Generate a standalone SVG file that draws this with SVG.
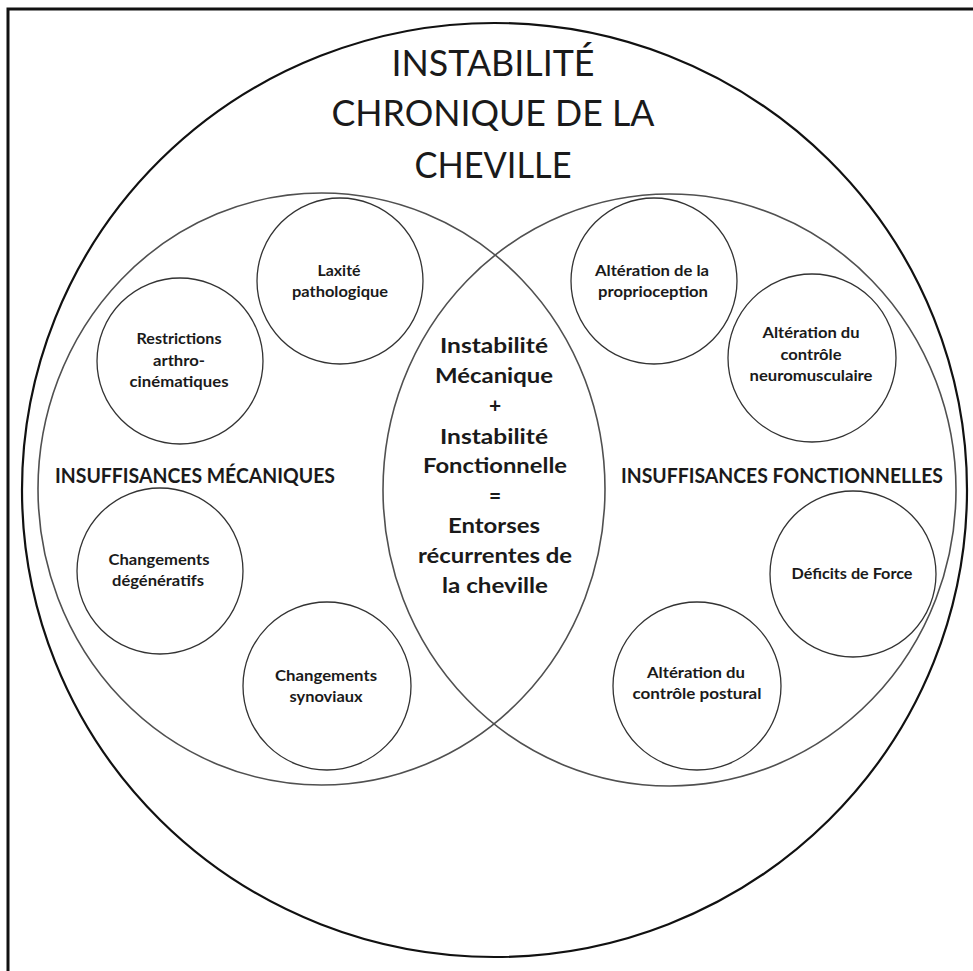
<svg xmlns="http://www.w3.org/2000/svg" width="973" height="971" viewBox="0 0 973 971">
<style>
.bg{fill:#ffffff}
.frame{fill:none;stroke:#111;stroke-width:3}
.outer{fill:none;stroke:#111;stroke-width:2.2}
.venn{fill:none;stroke:#505050;stroke-width:1.6}
.sc{fill:none;stroke:#333;stroke-width:1.3}
text{font-family:Lato,"Liberation Sans",sans-serif;fill:#1a1a1a;text-anchor:middle}
.title{font-size:36px;font-weight:400}
.center{font-size:21px;font-weight:700}
.lab{font-size:21px;font-weight:700;text-anchor:start}
.small{font-size:15px;font-weight:700}
</style>
<rect class="bg" x="0" y="0" width="973" height="971"/>
<path class="frame" d="M8,971 V9 H973"/>
<g id="outer-circle">
<ellipse class="outer" cx="494.5" cy="490" rx="472.5" ry="467"/>
<text class="title" x="493" y="76" textLength="203" lengthAdjust="spacingAndGlyphs">INSTABILITÉ</text>
<text class="title" x="493" y="126" textLength="323" lengthAdjust="spacingAndGlyphs">CHRONIQUE DE LA</text>
<text class="title" x="493" y="178" textLength="157" lengthAdjust="spacingAndGlyphs">CHEVILLE</text>
</g>
<g id="mecaniques">
<ellipse class="venn" cx="321.5" cy="489" rx="283.5" ry="296"/>
<text class="lab" x="55" y="483" textLength="280" lengthAdjust="spacingAndGlyphs">INSUFFISANCES  MÉCANIQUES</text>
</g>
<g id="fonctionnelles">
<ellipse class="venn" cx="669.5" cy="490" rx="286.5" ry="296"/>
<text class="lab" x="621" y="483" textLength="322" lengthAdjust="spacingAndGlyphs">INSUFFISANCES  FONCTIONNELLES</text>
</g>
<g id="intersection">
<text class="center" x="494" y="353" textLength="108" lengthAdjust="spacingAndGlyphs">Instabilité</text>
<text class="center" x="494" y="383" textLength="118" lengthAdjust="spacingAndGlyphs">Mécanique</text>
<text class="center" x="495" y="413">+</text>
<text class="center" x="494" y="444" textLength="108" lengthAdjust="spacingAndGlyphs">Instabilité</text>
<text class="center" x="495" y="473" textLength="144" lengthAdjust="spacingAndGlyphs">Fonctionnelle</text>
<text class="center" x="495" y="503">=</text>
<text class="center" x="494" y="533" textLength="92" lengthAdjust="spacingAndGlyphs">Entorses</text>
<text class="center" x="495" y="563" textLength="154" lengthAdjust="spacingAndGlyphs">récurrentes de</text>
<text class="center" x="495" y="593" textLength="106" lengthAdjust="spacingAndGlyphs">la cheville</text>
</g>
<g id="laxite">
<circle class="sc" cx="340" cy="281" r="83"/>
<text class="small" x="339" y="276" textLength="43" lengthAdjust="spacingAndGlyphs">Laxité</text>
<text class="small" x="340" y="297" textLength="96" lengthAdjust="spacingAndGlyphs">pathologique</text>
</g>
<g id="restrictions">
<circle class="sc" cx="180" cy="361" r="83"/>
<text class="small" x="179" y="344" textLength="85" lengthAdjust="spacingAndGlyphs">Restrictions</text>
<text class="small" x="179" y="366" textLength="52" lengthAdjust="spacingAndGlyphs">arthro-</text>
<text class="small" x="179" y="387" textLength="99" lengthAdjust="spacingAndGlyphs">cinématiques</text>
</g>
<g id="degeneratifs">
<circle class="sc" cx="160" cy="571" r="83"/>
<text class="small" x="159" y="565" textLength="101" lengthAdjust="spacingAndGlyphs">Changements</text>
<text class="small" x="158" y="586" textLength="92" lengthAdjust="spacingAndGlyphs">dégénératifs</text>
</g>
<g id="synoviaux">
<circle class="sc" cx="327" cy="686" r="84"/>
<text class="small" x="326" y="681" textLength="102" lengthAdjust="spacingAndGlyphs">Changements</text>
<text class="small" x="326" y="702" textLength="73" lengthAdjust="spacingAndGlyphs">synoviaux</text>
</g>
<g id="proprioception">
<circle class="sc" cx="654" cy="281" r="83"/>
<text class="small" x="652" y="276" textLength="114" lengthAdjust="spacingAndGlyphs">Altération de la</text>
<text class="small" x="653" y="297" textLength="110" lengthAdjust="spacingAndGlyphs">proprioception</text>
</g>
<g id="neuromusculaire">
<circle class="sc" cx="812" cy="358" r="84"/>
<text class="small" x="811" y="338" textLength="97" lengthAdjust="spacingAndGlyphs">Altération du</text>
<text class="small" x="811" y="360" textLength="61" lengthAdjust="spacingAndGlyphs">contrôle</text>
<text class="small" x="811" y="381" textLength="123" lengthAdjust="spacingAndGlyphs">neuromusculaire</text>
</g>
<g id="force">
<circle class="sc" cx="853" cy="574" r="83"/>
<text class="small" x="852" y="579" textLength="121" lengthAdjust="spacingAndGlyphs">Déficits de Force</text>
</g>
<g id="postural">
<circle class="sc" cx="697" cy="686" r="84"/>
<text class="small" x="696" y="678" textLength="98" lengthAdjust="spacingAndGlyphs">Altération du</text>
<text class="small" x="697" y="699" textLength="129" lengthAdjust="spacingAndGlyphs">contrôle postural</text>
</g>
<g id="connectors"/>
</svg>
